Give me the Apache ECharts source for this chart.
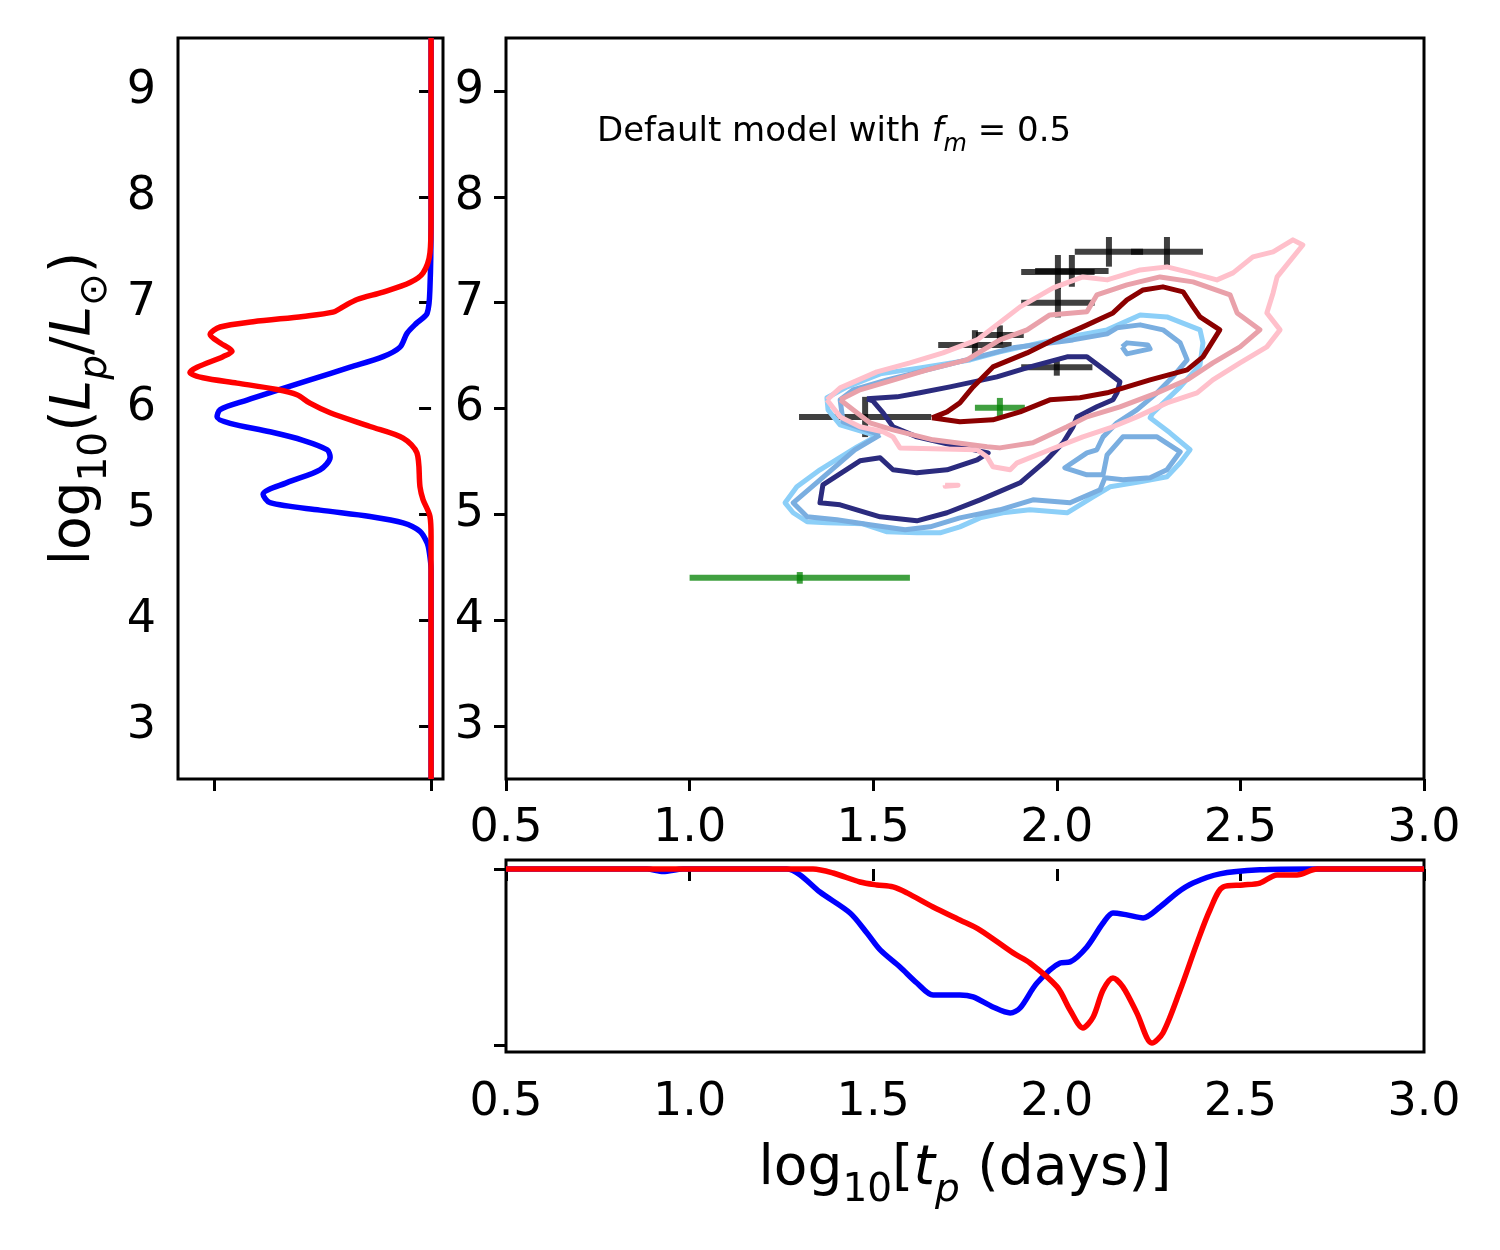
<!DOCTYPE html>
<html><head><meta charset="utf-8">
<script src="https://cdn.jsdelivr.net/npm/echarts@6/dist/echarts.min.js"></script>
<style>html,body{margin:0;padding:0;background:#fff}#c{width:1500px;height:1250px}</style>
</head><body><div id="c"></div>
<script>
// ---------- data ----------
const yTicks = [3, 4, 5, 6, 7, 8, 9];
const leftMarginTicks = [-1, 0];
const bottomMarginTicks = [-1, 0];

// left marginal: [ -density, log10 Lp ]
const leftBlue = [[0,9.5],[0,7.78],[-0.005,7.15],[-0.018,6.90],[-0.065,6.81],[-0.111,6.71],[-0.143,6.58],[-0.221,6.49],[-0.373,6.39],[-0.558,6.27],[-0.696,6.18],[-0.848,6.08],[-0.972,5.99],[-0.986,5.92],[-0.926,5.86],[-0.742,5.78],[-0.590,5.70],[-0.479,5.61],[-0.465,5.54],[-0.512,5.42],[-0.664,5.30],[-0.774,5.19],[-0.742,5.11],[-0.512,5.04],[-0.281,4.98],[-0.129,4.92],[-0.051,4.84],[-0.018,4.73],[-0.008,4.64],[0,4.48],[0,2.5]];
const leftRed = [[0,9.5],[0,7.78],[-0.005,7.47],[-0.037,7.28],[-0.097,7.19],[-0.221,7.10],[-0.341,7.03],[-0.406,6.96],[-0.452,6.91],[-0.590,6.87],[-0.820,6.82],[-0.972,6.77],[-1.018,6.70],[-0.972,6.62],[-0.917,6.54],[-0.959,6.49],[-1.078,6.39],[-1.111,6.34],[-1.051,6.29],[-0.894,6.24],[-0.710,6.18],[-0.618,6.13],[-0.558,6.05],[-0.465,5.96],[-0.281,5.83],[-0.129,5.72],[-0.065,5.58],[-0.051,5.26],[-0.037,5.14],[-0.005,4.98],[0,4.79],[0,2.5]];

// bottom marginal: [ log10 tp, -density ]
const bottomBlue = [[0.5,0],[0.884,0],[0.928,-0.015],[0.982,0],[1.265,0],[1.301,-0.034],[1.355,-0.131],[1.437,-0.25],[1.483,-0.364],[1.519,-0.46],[1.573,-0.557],[1.619,-0.648],[1.663,-0.716],[1.736,-0.716],[1.772,-0.727],[1.826,-0.784],[1.873,-0.818],[1.900,-0.79],[1.946,-0.648],[2.009,-0.534],[2.036,-0.528],[2.082,-0.443],[2.126,-0.307],[2.153,-0.25],[2.191,-0.261],[2.235,-0.278],[2.281,-0.216],[2.327,-0.136],[2.371,-0.08],[2.444,-0.028],[2.553,-0.005],[2.690,0],[3.0,0]];
const bottomRed = [[0.5,0],[1.336,0],[1.391,-0.023],[1.464,-0.074],[1.510,-0.091],[1.554,-0.102],[1.592,-0.136],[1.663,-0.216],[1.736,-0.29],[1.791,-0.347],[1.881,-0.477],[1.927,-0.534],[2.001,-0.67],[2.036,-0.801],[2.071,-0.903],[2.099,-0.841],[2.126,-0.688],[2.153,-0.619],[2.180,-0.67],[2.218,-0.818],[2.259,-0.989],[2.289,-0.932],[2.336,-0.688],[2.382,-0.42],[2.417,-0.233],[2.453,-0.102],[2.507,-0.091],[2.553,-0.08],[2.600,-0.034],[2.654,-0.034],[2.709,0],[3.0,0]];

// contours: [ log10 tp, log10 Lp ]
const contourLightBlue = [[1.510,5.742],[1.410,5.846],[1.377,5.987],[1.374,6.101],[1.429,6.204],[1.519,6.327],[1.627,6.384],[1.764,6.459],[1.845,6.535],[1.954,6.620],[2.063,6.695],[2.137,6.743],[2.227,6.884],[2.300,6.865],[2.390,6.743],[2.398,6.620],[2.390,6.412],[2.336,6.204],[2.262,5.959],[2.254,5.912],[2.308,5.770],[2.363,5.610],[2.336,5.487],[2.300,5.355],[2.227,5.307],[2.145,5.260],[2.099,5.166],[2.028,5.015],[1.927,5.043],[1.853,5.015],[1.791,4.967],[1.736,4.882],[1.682,4.826],[1.619,4.826],[1.538,4.835],[1.472,4.911],[1.374,4.920],[1.320,4.930],[1.282,5.015],[1.260,5.109],[1.292,5.260],[1.355,5.421],[1.456,5.638]];
const contourMidBlue = [[1.519,5.751],[1.418,5.874],[1.410,6.082],[1.445,6.176],[1.538,6.271],[1.701,6.412],[1.881,6.573],[2.044,6.648],[2.137,6.705],[2.164,6.762],[2.227,6.790],[2.289,6.743],[2.336,6.620],[2.355,6.459],[2.316,6.299],[2.273,6.148],[2.218,5.987],[2.164,5.865],[2.126,5.732],[2.109,5.610],[2.082,5.581],[2.022,5.440],[2.082,5.373],[2.126,5.373],[2.137,5.562],[2.180,5.732],[2.273,5.732],[2.336,5.591],[2.300,5.421],[2.254,5.345],[2.180,5.326],[2.131,5.345],[2.118,5.232],[2.036,5.109],[1.935,5.137],[1.845,5.043],[1.736,4.967],[1.655,4.882],[1.587,4.854],[1.491,4.901],[1.401,4.949],[1.320,4.977],[1.282,5.109],[1.355,5.326],[1.450,5.610]];
const contourMidBlueIsland = [[2.178,6.582],[2.191,6.620],[2.248,6.601],[2.254,6.563],[2.191,6.516]];
const contourNavy = [[1.483,6.091],[1.565,6.110],[1.627,6.148],[1.709,6.204],[1.837,6.299],[1.927,6.393],[2.028,6.488],[2.082,6.488],[2.137,6.346],[2.172,6.252],[2.164,6.148],[2.153,6.082],[2.109,6.016],[2.055,5.921],[2.044,5.827],[2.017,5.676],[1.973,5.515],[1.900,5.298],[1.791,5.137],[1.701,5.015],[1.619,4.939],[1.519,4.977],[1.410,5.090],[1.355,5.109],[1.363,5.279],[1.464,5.506],[1.519,5.534],[1.554,5.421],[1.619,5.392],[1.701,5.421],[1.783,5.515],[1.813,5.581],[1.736,5.638],[1.619,5.732],[1.554,5.827],[1.527,5.959],[1.499,6.072]];
const contourPink = [[1.374,6.082],[1.410,6.195],[1.510,6.346],[1.600,6.431],[1.690,6.525],[1.783,6.648],[1.900,6.960],[1.990,7.139],[2.071,7.243],[2.137,7.215],[2.227,7.309],[2.300,7.338],[2.355,7.290],[2.436,7.215],[2.480,7.281],[2.534,7.432],[2.589,7.479],[2.643,7.593],[2.670,7.545],[2.600,7.243],[2.589,7.092],[2.572,6.903],[2.608,6.743],[2.572,6.582],[2.499,6.431],[2.425,6.271],[2.382,6.148],[2.300,6.053],[2.218,5.921],[2.153,5.827],[2.071,5.732],[1.981,5.610],[1.892,5.487],[1.873,5.421],[1.826,5.449],[1.810,5.543],[1.783,5.610],[1.573,5.628],[1.554,5.732],[1.527,5.780],[1.464,5.827],[1.410,5.921]];
const contourPinkIsland = [[1.696,5.276],[1.731,5.276],[1.731,5.266],[1.696,5.266]];
const contourRose = [[1.410,6.082],[1.464,6.176],[1.538,6.252],[1.647,6.365],[1.755,6.459],[1.845,6.648],[1.919,6.743],[1.981,6.884],[2.082,6.913],[2.109,7.073],[2.191,7.168],[2.281,7.243],[2.371,7.196],[2.472,7.073],[2.491,6.903],[2.553,6.743],[2.499,6.582],[2.425,6.431],[2.355,6.271],[2.273,6.148],[2.172,6.016],[2.082,5.921],[2.028,5.827],[1.935,5.676],[1.845,5.628],[1.810,5.638],[1.663,5.704],[1.554,5.798],[1.491,5.865]];
const contourDarkRed = [[1.660,5.912],[1.701,5.968],[1.736,6.053],[1.772,6.204],[1.826,6.393],[1.919,6.525],[1.990,6.648],[2.071,6.771],[2.153,6.903],[2.191,7.026],[2.235,7.120],[2.289,7.149],[2.344,7.102],[2.371,6.960],[2.390,6.865],[2.444,6.743],[2.398,6.488],[2.355,6.365],[2.254,6.271],[2.137,6.148],[2.063,6.101],[1.981,6.082],[1.900,5.968],[1.826,5.893],[1.736,5.874]];

// observed points: [ log10 tp, log10 Lp, x error, y error ]
const observedBlack = [[1.478,5.92,0.18,0.19],[1.777,6.60,0.10,0.14],[1.845,6.695,0.065,0.09],[2.0,6.39,0.097,0.08],[2.003,7.0,0.10,0.14],[2.003,7.29,0.10,0.16],[2.041,7.30,0.10,0.15],[2.142,7.48,0.093,0.14],[2.300,7.48,0.098,0.14]];
const observedGreen = [[1.845,6.006,0.068,0.094],[1.30,4.40,0.30,0.055]];

// ---------- chart ----------
const FONT = 'DejaVu Sans';
const chart = echarts.init(document.getElementById('c'), null, {renderer: 'canvas'});
const frame = {show: true, borderColor: '#000', borderWidth: 3, backgroundColor: 'transparent'};
const tickStyle = {lineStyle: {color: '#000', width: 3}, length: 12};
const lblStyle = {color: '#000', fontSize: 46, fontFamily: FONT};
const nameRich = {
  n: {fontSize: 55, fontFamily: FONT, fontWeight: 'normal', color: '#000', lineHeight: 80, verticalAlign: 'middle'},
  i: {fontSize: 55, fontFamily: FONT, fontWeight: 'normal', fontStyle: 'italic', color: '#000', lineHeight: 80, verticalAlign: 'middle'},
  s: {fontSize: 39, fontFamily: FONT, fontWeight: 'normal', color: '#000', lineHeight: 54, verticalAlign: 'bottom'},
  si: {fontSize: 39, fontFamily: FONT, fontWeight: 'normal', fontStyle: 'italic', color: '#000', lineHeight: 54, verticalAlign: 'bottom'}
};

function curve(data, color, xi, width) {
  return {type: 'line', xAxisIndex: xi, yAxisIndex: xi, data: data, symbol: 'none', showSymbol: false,
    smooth: 0.3, lineStyle: {color: color, width: width, join: 'round'}, silent: true, animation: false};
}
function contour(data, color) {
  return {type: 'line', xAxisIndex: 1, yAxisIndex: 1, data: data.concat([data[0]]), symbol: 'none',
    showSymbol: false, lineStyle: {color: color, width: 5, join: 'round'}, silent: true, animation: false};
}
function errorbars(data, color) {
  return {type: 'custom', xAxisIndex: 1, yAxisIndex: 1, data: data, silent: true, animation: false,
    renderItem: function (params, api) {
      const x = api.value(0), y = api.value(1), ex = api.value(2), ey = api.value(3);
      const a = api.coord([x - ex, y]), b = api.coord([x + ex, y]);
      const c = api.coord([x, y - ey]), d = api.coord([x, y + ey]);
      const st = {stroke: color, lineWidth: 6};
      return {type: 'group', children: [
        {type: 'line', shape: {x1: a[0], y1: a[1], x2: b[0], y2: b[1]}, style: st},
        {type: 'line', shape: {x1: c[0], y1: c[1], x2: d[0], y2: d[1]}, style: st}
      ]};
    }};
}

const option = {
  backgroundColor: '#fff',
  animation: false,
  title: {
    text: '{a|Default model with }{i|f}{s|m}{a| = 0.5}',
    left: 597, top: 107, padding: 0,
    textStyle: {fontWeight: 'normal', rich: {
      a: {fontSize: 34, fontFamily: FONT, fontWeight: 'normal', color: '#000', lineHeight: 50, verticalAlign: 'middle'},
      i: {fontSize: 34, fontFamily: FONT, fontWeight: 'normal', fontStyle: 'italic', color: '#000', lineHeight: 50, verticalAlign: 'middle'},
      s: {fontSize: 24, fontFamily: FONT, fontWeight: 'normal', fontStyle: 'italic', color: '#000', lineHeight: 36, verticalAlign: 'bottom'}
    }}
  },
  grid: [
    Object.assign({left: 178, top: 38, width: 265, height: 741}, frame),
    Object.assign({left: 506, top: 38, width: 918, height: 741}, frame),
    Object.assign({left: 506, top: 860, width: 918, height: 192}, frame)
  ],
  xAxis: [
    {gridIndex: 0, type: 'value', min: -1.166, max: 0.055, axisLine: {show: false}, splitLine: {show: false},
      axisTick: Object.assign({customValues: leftMarginTicks}, tickStyle), axisLabel: {show: false}},
    {gridIndex: 1, type: 'value', min: 0.5, max: 3.0, interval: 0.5, axisLine: {show: false}, splitLine: {show: false},
      axisTick: tickStyle, axisLabel: Object.assign({margin: 27, formatter: v => v.toFixed(1)}, lblStyle)},
    {gridIndex: 2, type: 'value', min: 0.5, max: 3.0, interval: 0.5, axisLine: {show: false}, splitLine: {show: false},
      axisTick: tickStyle, axisLabel: Object.assign({margin: 28, formatter: v => v.toFixed(1)}, lblStyle),
      name: '{n|log}{s|10}{n|[}{i|t}{si|p}{n| (days)]}', nameLocation: 'middle', nameGap: 78,
      nameTextStyle: {rich: nameRich}}
  ],
  yAxis: [
    {gridIndex: 0, type: 'value', min: 2.5, max: 9.5, axisLine: {show: false}, splitLine: {show: false},
      axisTick: Object.assign({customValues: yTicks}, tickStyle),
      axisLabel: Object.assign({customValues: yTicks, margin: 22}, lblStyle),
      name: '{n|log}{s|10}{n|(}{i|L}{si|p}{n|/}{i|L}{s|⊙}{n|)}', nameLocation: 'middle', nameRotate: 90, nameGap: 63,
      nameTextStyle: {rich: nameRich}},
    {gridIndex: 1, type: 'value', min: 2.5, max: 9.5, axisLine: {show: false}, splitLine: {show: false},
      axisTick: Object.assign({customValues: yTicks}, tickStyle),
      axisLabel: Object.assign({customValues: yTicks, margin: 22}, lblStyle)},
    {gridIndex: 2, type: 'value', min: -1.04, max: 0.051, axisLine: {show: false}, splitLine: {show: false},
      axisTick: Object.assign({customValues: bottomMarginTicks}, tickStyle), axisLabel: {show: false}}
  ],
  series: [
    curve(leftBlue, '#0000ff', 0, 5.5),
    curve(leftRed, '#ff0000', 0, 5.5),
    curve(bottomBlue, '#0000ff', 2, 5.5),
    curve(bottomRed, '#ff0000', 2, 5.5),
    contour(contourLightBlue, '#8ccff8'),
    contour(contourMidBlue, '#7aaee0'),
    contour(contourMidBlueIsland, '#7aaee0'),
    contour(contourNavy, '#2b2b7e'),
    contour(contourPink, '#ffc0cb'),
    contour(contourPinkIsland, '#ffc0cb'),
    contour(contourRose, '#e9a1aa'),
    contour(contourDarkRed, '#8b0000'),
    errorbars(observedBlack, 'rgba(0,0,0,0.75)'),
    errorbars(observedGreen, 'rgba(0,128,0,0.75)')
  ]
};
chart.setOption(option);
</script></body></html>
